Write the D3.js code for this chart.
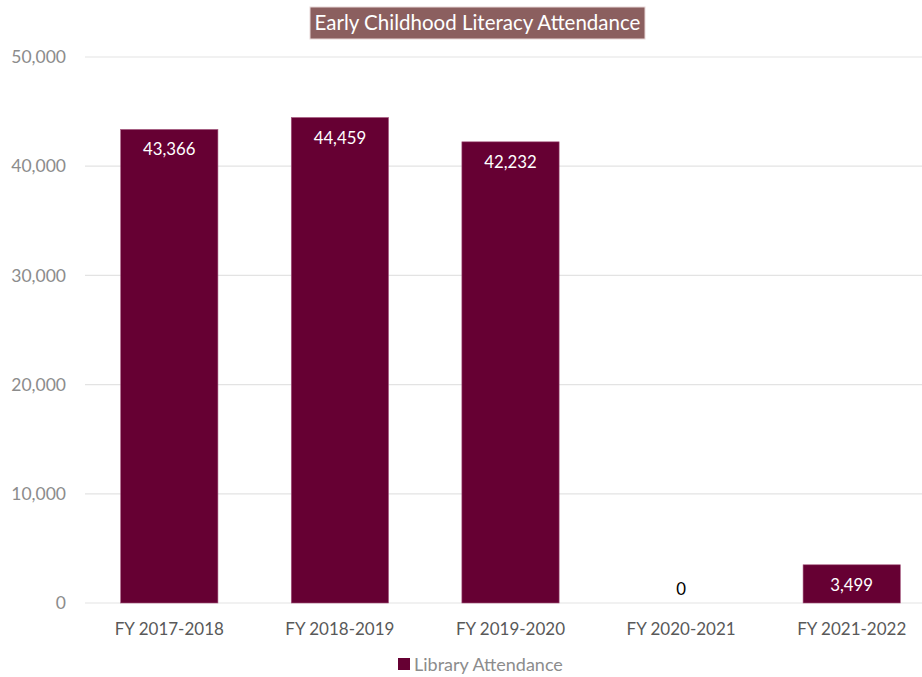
<!DOCTYPE html>
<html>
<head>
<meta charset="utf-8">
<script src="https://cdn.jsdelivr.net/npm/d3@7"></script>
<style>
  html, body { margin: 0; padding: 0; background: #fff; overflow: hidden; }
  svg { display: block; font-family: Lato, "Open Sans", sans-serif; }
</style>
</head>
<body>
<svg id="chart" width="922" height="677"></svg>
<script>
// Annual attendance at early childhood literacy programs
const categories = ["FY 2017-2018", "FY 2018-2019", "FY 2019-2020", "FY 2020-2021", "FY 2021-2022"];
const attendance = [43366, 44459, 42232, 0, 3499];
const yTicks = [0, 10000, 20000, 30000, 40000, 50000];
const seriesName = "Library Attendance";
const chartTitle = "Early Childhood Literacy Attendance";

const W = 922, H = 677;
const plotLeft = 84, plotRight = 937, plotTop = 57, plotBottom = 603;
const barColor = "#660033";

const svg = d3.select("#chart");

const x = d3.scaleBand()
  .domain(categories)
  .range([plotLeft, plotRight])
  .paddingInner(0.43)
  .paddingOuter(0.215);

const y = d3.scaleLinear()
  .domain([0, 50000])
  .range([plotBottom, plotTop]);

const fmt = d3.format(",");

// Horizontal gridlines
svg.append("g")
  .selectAll("line")
  .data(yTicks)
  .join("line")
  .attr("x1", plotLeft + 1)
  .attr("x2", W)
  .attr("y1", d => y(d))
  .attr("y2", d => y(d))
  .attr("stroke", "#e3e3e3")
  .attr("stroke-width", 1.2);

// Y axis labels
const yAxis = d3.axisLeft(y).tickValues(yTicks).tickFormat(fmt).tickSize(0).tickPadding(0);
const yg = svg.append("g")
  .attr("transform", `translate(66,0)`)
  .call(yAxis);
yg.select(".domain").remove();
yg.selectAll("text")
  .attr("fill", "#8c8c8c")
  .style("font-size", "17.5px")
  .style("font-family", "Lato, 'Open Sans', sans-serif");

// X axis labels
const xAxis = d3.axisBottom(x).tickSize(0).tickPadding(0);
const xg = svg.append("g")
  .attr("transform", `translate(0,${y(0) + 20})`)
  .call(xAxis);
xg.select(".domain").remove();
xg.selectAll("text")
  .attr("fill", "#595959")
  .style("font-size", "17px")
  .style("font-family", "Lato, 'Open Sans', sans-serif");

// Bars
svg.append("g")
  .selectAll("rect")
  .data(categories)
  .join("rect")
  .attr("x", d => x(d))
  .attr("width", x.bandwidth())
  .attr("y", (d, i) => y(attendance[i]))
  .attr("height", (d, i) => y(0) - y(attendance[i]))
  .attr("fill", barColor)
  .attr("stroke", (d, i) => attendance[i] > 0 ? "#a5577e" : "none")
  .attr("stroke-width", 0.6);

// Value labels
svg.append("g")
  .selectAll("text")
  .data(categories)
  .join("text")
  .attr("x", d => x(d) + x.bandwidth() / 2)
  .attr("y", (d, i) => attendance[i] > 0 ? y(attendance[i]) + 26 : y(0) - 8)
  .attr("text-anchor", "middle")
  .attr("fill", (d, i) => attendance[i] > 0 ? "#ffffff" : "#000000")
  .style("font-size", "16.8px")
  .text((d, i) => fmt(attendance[i]));

// Title with filled box
const titleG = svg.append("g");
titleG.append("rect")
  .attr("x", 310)
  .attr("y", 7)
  .attr("width", 335)
  .attr("height", 32)
  .attr("fill", "#8b5f5f")
  .attr("stroke", "#e8d8d8")
  .attr("stroke-width", 1);
titleG.append("text")
  .attr("x", 477.5)
  .attr("y", 30)
  .attr("text-anchor", "middle")
  .attr("fill", "#ffffff")
  .style("font-size", "20.5px")
  .text(chartTitle);

// Legend
const legend = svg.append("g").attr("transform", "translate(398,658)");
legend.append("rect")
  .attr("width", 12)
  .attr("height", 12)
  .attr("fill", barColor);
legend.append("text")
  .attr("x", 16)
  .attr("y", 12.5)
  .attr("fill", "#8c8c8c")
  .style("font-size", "18px")
  .text(seriesName);
</script>
</body>
</html>
